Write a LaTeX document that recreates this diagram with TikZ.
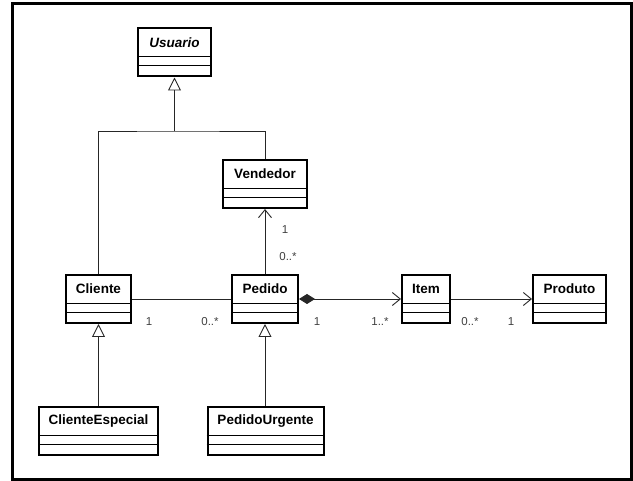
\documentclass[tikz,border=0pt]{standalone}
\usepackage{fontspec}
\setmainfont{Liberation Sans}
\usetikzlibrary{arrows.meta}
\tikzset{
  cls/.style={draw, line width=2pt, minimum height=48pt, inner sep=0pt},
  clsname/.style={font=\fontsize{13.5}{15}\selectfont\bfseries, inner sep=0pt},
  divider/.style={line width=0.9pt},
  conn/.style={line width=0.9pt, draw=black!85},
  gen/.style={conn, -{Triangle[open, length=13pt, width=13pt, line width=0.9pt]}},
  navi/.style={conn, -{Straight Barb[length=8pt, width=13pt, line width=0.9pt]}},
  comp/.style={conn, {Diamond[length=16pt, width=10pt]}-{Straight Barb[length=8pt, width=13pt, line width=0.9pt]}},
  mult/.style={font=\fontsize{11.5}{13}\selectfont, text=black!75, inner sep=0pt}
}
\newcommand{\umlbox}[5]{%
  \node[cls, minimum width=#4pt] (#1) at (#2,#3) {};
  \node[clsname] (#1-name) at ([yshift=-15pt]#1.north) {#5};
  \draw[divider] ([yshift=-29pt]#1.north west) -- ([yshift=-29pt]#1.north east);
  \draw[divider] ([yshift=-38pt]#1.north west) -- ([yshift=-38pt]#1.north east);
}
\begin{document}
\begin{tikzpicture}[x=1pt, y=-1pt]
\useasboundingbox (0,0) rectangle (633,481);
\draw[line width=3pt] (12.5,3.5) rectangle (631.5,479.5);

\umlbox{usuario}{174.5}{52.5}{73}{\itshape Usuario}
\umlbox{vendedor}{265}{184}{84}{Vendedor}
\umlbox{cliente}{98.5}{299}{65}{Cliente}
\umlbox{pedido}{265}{299}{66}{Pedido}
\umlbox{item}{426}{299}{48}{Item}
\umlbox{produto}{569.5}{299}{73}{Produto}
\umlbox{clienteesp}{98.5}{431}{119}{ClienteEspecial}
\umlbox{pedidourg}{265.5}{431.5}{116}{PedidoUrgente}

\coordinate (j) at (174.5,131);
\draw[conn] (cliente.north) |- (j) -| (vendedor.north);
\draw[gen] (j) -- (usuario.south);

\draw[navi] (pedido.north) -- (vendedor.south);
\node[mult] (m1) at (285,230) {1};
\node[mult] (m2) at (288,257) {0..*};

\draw[conn] (cliente.east) -- (pedido.west);
\node[mult] (m3) at (149,322) {1};
\node[mult] (m4) at (210,322) {0..*};

\draw[comp] (pedido.east) -- (item.west);
\node[mult] (m5) at (317,322) {1};
\node[mult] (m6) at (380,322) {1..*};

\draw[navi] (item.east) -- (produto.west);
\node[mult] (m7) at (470,322) {0..*};
\node[mult] (m8) at (511,322) {1};

\draw[gen] (clienteesp.north) -- (cliente.south);
\draw[gen] (pedidourg.north -| pedido.south) -- (pedido.south);
\end{tikzpicture}
\end{document}
